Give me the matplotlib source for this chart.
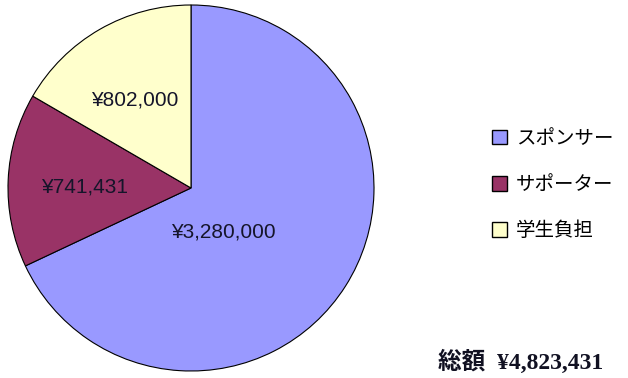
import matplotlib
matplotlib.use("Agg")
import matplotlib.pyplot as plt

categories = ["スポンサー", "サポーター", "学生負担"]
amounts = [3280000, 741431, 802000]
colors = ["#9999FF", "#993366", "#FFFFCC"]
total_label = "総額"

plt.rcParams["font.family"] = ["Liberation Sans", "Noto Sans CJK JP"]

W, H = 628, 378
fig = plt.figure(figsize=(W / 100, H / 100), dpi=100)
fig.patch.set_facecolor("white")

# pie centre / radius in pixels
cx, cy, r = 191, 190, 183
ax = fig.add_axes([(cx - r) / W, (cy - r) / H, 2 * r / W, 2 * r / H])

wedges, _ = ax.pie(
    amounts,
    colors=colors,
    startangle=90,
    counterclock=False,
    radius=1,
    wedgeprops=dict(edgecolor="#000000", linewidth=0.8),
)
ax.set_xlim(-1, 1)
ax.set_ylim(-1, 1)
ax.set_aspect("equal")
ax.axis("off")

# value labels placed inside each slice
label_pos = [(0.175, -0.24), (-0.58, 0.005), (-0.305, 0.48)]
for val, (lx, ly) in zip(amounts, label_pos):
    ax.text(lx, ly, f"¥{val:,}", ha="center", va="center",
            fontsize=15, color="#15152a")

leg = fig.legend(
    wedges, categories,
    loc="upper left", bbox_to_anchor=(482 / W, 1 - 118 / H),
    frameon=False,
    prop={"family": ["Noto Sans CJK JP"], "size": 14},
    handlelength=0.8, handleheight=0.8, handletextpad=0.45,
    labelspacing=1.3, borderpad=0,
)
for h in leg.legend_handles:
    h.set_edgecolor("#000000")
    h.set_linewidth(1.0)

total = sum(amounts)
fig.text(603 / W, 1 - 362 / H, f"{total_label}  ¥{total:,}",
         ha="right", va="center", fontsize=17, fontweight="bold",
         family=["Liberation Serif", "Noto Sans CJK JP"], color="#111122")

fig.savefig("out.png", dpi=100)
